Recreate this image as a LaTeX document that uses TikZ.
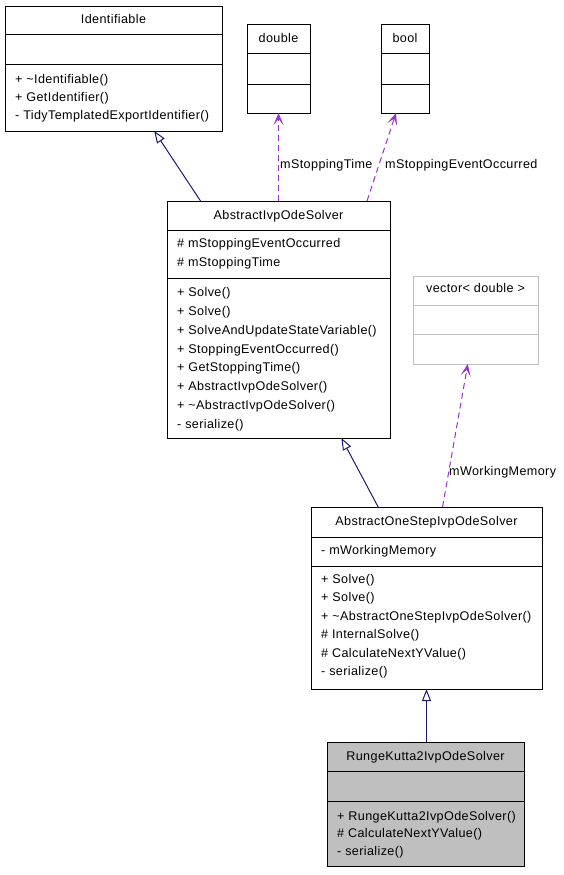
\documentclass[tikz,border=0pt]{standalone}
\usepackage{fontspec}
\setmainfont[LetterSpace=3]{Liberation Sans}
\usetikzlibrary{arrows.meta,calc}
\definecolor{navy}{HTML}{191970}
\definecolor{purp}{HTML}{9A32CD}
\definecolor{lgray}{HTML}{BFBFBF}
\tikzset{
  cls/.style={draw=black, line width=1pt, inner sep=0pt, outer sep=0pt, anchor=north west},
  row/.style={anchor=base west, inner sep=0pt},
  ttl/.style={anchor=base, inner sep=0pt},
  sep/.style={draw=black, line width=1pt},
  inh/.style={draw=navy, line width=1pt, -{Triangle[open, length=12pt, width=9pt]}},
  use/.style={draw=purp, line width=1pt, dash pattern=on 6pt off 4pt, -{Stealth[length=12pt, width=10pt, inset=6pt]}},
  lbl/.style={anchor=base west, inner sep=0pt}
}
\begin{document}
\begin{tikzpicture}[x=1pt, y=-1pt, font=\fontsize{12.6}{15}\selectfont]
\useasboundingbox[fill=white] (0,0) rectangle (564,875);
% Identifiable
\node[cls, minimum width=217pt, minimum height=124pt] (ident) at (5,7) {};
\draw[sep] ($(ident.north west)+(0,28)$) -- ($(ident.north east)+(0,28)$);
\draw[sep] ($(ident.north west)+(0,58)$) -- ($(ident.north east)+(0,58)$);
\node[ttl] (identT) at (113.5,24) {Identifiable};
\node[row] (identM1) at (15,83.5) {+ \textasciitilde Identifiable()};
\node[row] (identM2) at (15,101.7) {+ GetIdentifier()};
\node[row] (identM3) at (15,119.5) {- TidyTemplatedExportIdentifier()};
% double
\node[cls, minimum width=63pt, minimum height=88pt] (dbl) at (247,25) {};
\draw[sep] ($(dbl.north west)+(0,29)$) -- ($(dbl.north east)+(0,29)$);
\draw[sep] ($(dbl.north west)+(0,59)$) -- ($(dbl.north east)+(0,59)$);
\node[ttl] (dblT) at (278.5,43) {double};
% bool
\node[cls, minimum width=48pt, minimum height=88pt] (bool) at (381,25) {};
\draw[sep] ($(bool.north west)+(0,29)$) -- ($(bool.north east)+(0,29)$);
\draw[sep] ($(bool.north west)+(0,59)$) -- ($(bool.north east)+(0,59)$);
\node[ttl] (boolT) at (405,43) {bool};
% AbstractIvpOdeSolver
\node[cls, minimum width=223pt, minimum height=237pt] (abs) at (167,201) {};
\draw[sep] ($(abs.north west)+(0,29)$) -- ($(abs.north east)+(0,29)$);
\draw[sep] ($(abs.north west)+(0,77)$) -- ($(abs.north east)+(0,77)$);
\node[ttl] (absT) at (278.5,219.3) {AbstractIvpOdeSolver};
\node[row] (absA1) at (177,247.7) {\# mStoppingEventOccurred};
\node[row] (absA2) at (177,266.7) {\# mStoppingTime};
\node[row] (absM1) at (177,296.7) {+ Solve()};
\node[row] (absM2) at (177,315.3) {+ Solve()};
\node[row] (absM3) at (177,334.3) {+ SolveAndUpdateStateVariable()};
\node[row] (absM4) at (177,353.3) {+ StoppingEventOccurred()};
\node[row] (absM5) at (177,371.7) {+ GetStoppingTime()};
\node[row] (absM6) at (177,390.7) {+ AbstractIvpOdeSolver()};
\node[row] (absM7) at (177,409.3) {+ \textasciitilde AbstractIvpOdeSolver()};
\node[row] (absM8) at (177,428.3) {- serialize()};
% vector< double >
\node[cls, draw=lgray, minimum width=125pt, minimum height=88pt] (vec) at (413,276) {};
\draw[sep, draw=lgray] ($(vec.north west)+(0,29)$) -- ($(vec.north east)+(0,29)$);
\draw[sep, draw=lgray] ($(vec.north west)+(0,58)$) -- ($(vec.north east)+(0,58)$);
\node[ttl] (vecT) at (475.5,292.7) {vector< double >};
% AbstractOneStepIvpOdeSolver
\node[cls, minimum width=231pt, minimum height=182pt] (one) at (311,507) {};
\draw[sep] ($(one.north west)+(0,30)$) -- ($(one.north east)+(0,30)$);
\draw[sep] ($(one.north west)+(0,59)$) -- ($(one.north east)+(0,59)$);
\node[ttl] (oneT) at (426.5,525) {AbstractOneStepIvpOdeSolver};
\node[row] (oneA1) at (321,554.3) {- mWorkingMemory};
\node[row] (oneM1) at (321,583.3) {+ Solve()};
\node[row] (oneM2) at (321,601.7) {+ Solve()};
\node[row] (oneM3) at (321,620) {+ \textasciitilde AbstractOneStepIvpOdeSolver()};
\node[row] (oneM4) at (321,638.3) {\# InternalSolve()};
\node[row] (oneM5) at (321,657.3) {\# CalculateNextYValue()};
\node[row] (oneM6) at (321,675.7) {- serialize()};
% RungeKutta2IvpOdeSolver
\node[cls, fill=lgray, minimum width=197pt, minimum height=124pt] (rk) at (327,742) {};
\draw[sep] ($(rk.north west)+(0,29)$) -- ($(rk.north east)+(0,29)$);
\draw[sep] ($(rk.north west)+(0,59)$) -- ($(rk.north east)+(0,59)$);
\node[ttl] (rkT) at (425.5,760) {RungeKutta2IvpOdeSolver};
\node[row] (rkM1) at (337,820) {+ RungeKutta2IvpOdeSolver()};
\node[row] (rkM2) at (337,837.7) {\# CalculateNextYValue()};
\node[row] (rkM3) at (337,855.7) {- serialize()};
% connectors
\draw[inh] (abs) -- (ident);
\draw[use] (abs) -- (dbl);
\draw[use] ($(abs.north west)+(200,0)$) -- ($(bool.south west)+(15,0)$);
\draw[inh] (one) -- (abs);
\draw[use] (one) -- (vec);
\draw[inh] (rk.north -| one.south) -- (one.south);
% labels
\node[lbl] (l1) at (280,168.3) {mStoppingTime};
\node[lbl] (l2) at (385,168.3) {mStoppingEventOccurred};
\node[lbl] (l3) at (449,475.7) {mWorkingMemory};
\end{tikzpicture}
\end{document}
